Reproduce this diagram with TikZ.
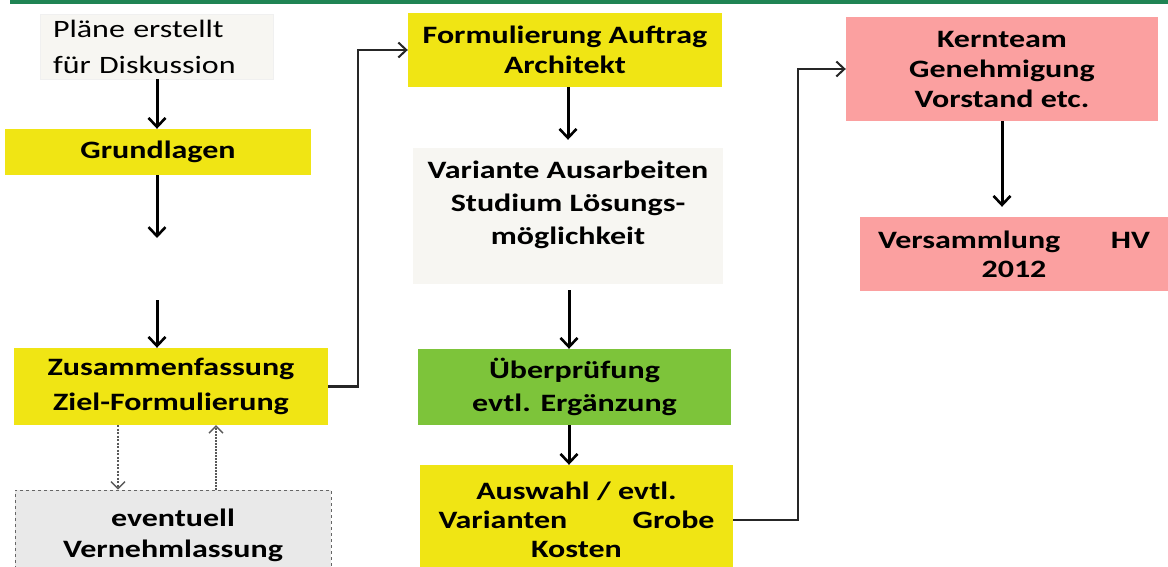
\documentclass[tikz,border=0pt]{standalone}
\usepackage{fontspec}
\setmainfont{Carlito}[FakeStretch=1.28]
\usetikzlibrary{arrows.meta,calc}
\definecolor{ybox}{HTML}{F0E514}
\definecolor{gbox}{HTML}{7DC43A}
\definecolor{pbox}{HTML}{FBA0A0}
\definecolor{lbox}{HTML}{F7F6F2}
\definecolor{ebox}{HTML}{E9E9E9}
\definecolor{topline}{HTML}{1F8454}
\tikzset{
  box/.style={rectangle, inner sep=0pt, align=center, font=\fontsize{25}{33}\selectfont\bfseries},
  ybx/.style={box, fill=ybox},
  gbx/.style={box, fill=gbox},
  pbx/.style={box, fill=pbox},
  flow/.style={line width=3pt, -{Straight Barb[length=9pt,width=17pt,line width=2.6pt]}},
  elbow/.style={line width=2.2pt, draw=black!85, -{Straight Barb[length=8pt,width=15pt,line width=2pt]}},
  dotarrow/.style={line width=1.6pt, draw=black!65, -{Straight Barb[length=7pt,width=14pt,line width=1.4pt]}}
}
\begin{document}
\begin{tikzpicture}[x=1pt,y=-1pt]
\useasboundingbox (0,0) rectangle (1168,567);
\fill[topline] (10,0) rectangle (1168,4);

\node[box, fill=lbox, draw=black!6, font=\fontsize{25}{36}\selectfont, align=left,
      minimum width=233, minimum height=65, text width=207] (plaene) at (156.5,46.5)
      {Pläne erstellt\\für Diskussion};
\node[ybx, minimum width=306, minimum height=46] (grund) at (158,152) {\raisebox{-2pt}{Grundlagen}};
\coordinate (gapA) at (157,238);
\coordinate (gapB) at (157,300);
\node[ybx, minimum width=314, minimum height=77, font=\fontsize{25}{35}\selectfont\bfseries] (zus) at (171,386.5) {Zusammenfassung\\Ziel-Formulierung};
\node[box, fill=ebox, draw=black!60, dashed, line width=0.9pt, minimum width=316, minimum height=90] (evt) at (173,535)
      {eventuell\\[-2pt]Vernehmlassung};

\node[ybx, minimum width=314, minimum height=74, font=\fontsize{25}{30}\selectfont\bfseries] (form) at (565,50) {Formulierung Auftrag\\Architekt};
\node[box, fill=lbox, minimum width=310, minimum height=136] (var) at (568,216)
      {Variante Ausarbeiten\\Studium Lösungs-\\möglichkeit\\[-16pt]\strut};
\node[gbx, minimum width=313, minimum height=76] (ueber) at (574.5,387) {Überprüfung\\evtl. Ergänzung};
\node[ybx, minimum width=313, minimum height=110, font=\fontsize{25}{29}\selectfont\bfseries] (ausw) at (576.5,520)
      {Auswahl / evtl.\\\hbox to 276pt{Varianten\hfill Grobe}\\Kosten};

\node[pbx, minimum width=312, minimum height=104, font=\fontsize{25}{30}\selectfont\bfseries] (kern) at (1002,69)
      {Kernteam\\Genehmigung\\Vorstand etc.};
\node[pbx, minimum width=308, minimum height=74, font=\fontsize{25}{29}\selectfont\bfseries] (vers) at (1014,254)
      {\hbox to 272pt{Versammlung\hfill HV}\\2012};

\draw[flow] (plaene.south -| 157,0) -- (grund.north -| 157,0);
\draw[flow] (grund.south -| gapA) -- (gapA);
\draw[flow] (gapB) -- (zus.north -| gapB);
\draw[elbow] (zus.east) -- ++(30,0) |- (form.west);
\draw[flow] (form.south -| 568,0) -- ($(var.north -| 568,0)+(0,-8)$);
\draw[flow] ($(var.south -| 569,0)+(0,6)$) -- (ueber.north -| 569,0);
\draw[flow] (ueber.south -| 569,0) -- (ausw.north -| 569,0);
\draw[elbow] (ausw.east) -- ++(65,0) |- (kern.west);
\draw[flow] (kern.south -| 1002,0) -- ($(vers.north -| 1002,0)+(0,-10)$);

\draw[dotarrow, dash pattern=on 2pt off 1.5pt, line width=2.2pt] (zus.south -| 118,0) -- (evt.north -| 118,0);
\draw[dotarrow, dash pattern=on 1.5pt off 1.5pt] (evt.north -| 216,0) -- (zus.south -| 216,0);
\end{tikzpicture}
\end{document}
